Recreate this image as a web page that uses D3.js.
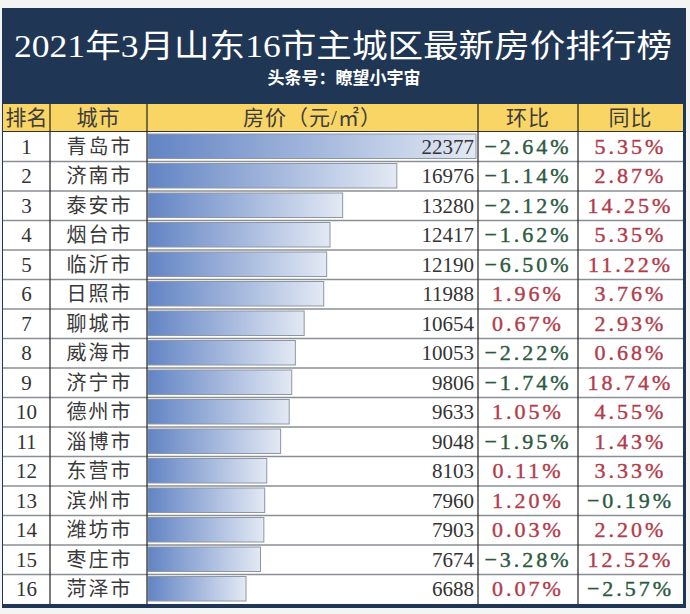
<!DOCTYPE html>
<html><head><meta charset="utf-8">
<script src="https://cdn.jsdelivr.net/npm/d3@7/dist/d3.min.js"></script>
<style>
html,body{margin:0;padding:0;background:#f4f4f4;}
svg{display:block;}
</style></head>
<body>
<svg id="chart" width="690" height="614"></svg>
<script>
const title = "2021年3月山东16市主城区最新房价排行榜";
const subtitle = "头条号：瞭望小宇宙";
const headers = ["排名", "城市", "房价（元/㎡）", "环比", "同比"];
const cities = ["青岛市","济南市","泰安市","烟台市","临沂市","日照市","聊城市","威海市","济宁市","德州市","淄博市","东营市","滨州市","潍坊市","枣庄市","菏泽市"];
const prices = [22377,16976,13280,12417,12190,11988,10654,10053,9806,9633,9048,8103,7960,7903,7674,6688];
const mom = [-2.64,-1.14,-2.12,-1.62,-6.50,1.96,0.67,-2.22,-1.74,1.05,-1.95,0.11,1.20,0.03,-3.28,0.07];
const yoy = [5.35,2.87,14.25,5.35,11.22,3.76,2.93,0.68,18.74,4.55,1.43,3.33,-0.19,2.20,12.52,-2.57];

const svg = d3.select("#chart");
const serif = "'Liberation Serif','DejaVu Serif','Noto Sans CJK SC',serif";
const cols = [3, 50, 147, 478, 578, 683];
const tableTop = 104, headerBottom = 131, tableBottom = 604;

svg.append("rect").attr("x",0).attr("y",0).attr("width",690).attr("height",614).attr("fill","#f4f4f4");
svg.append("rect").attr("x",2).attr("y",8).attr("width",684).attr("height",600).attr("fill","#1f3654");

svg.append("text").attr("x",343).attr("y",57).attr("text-anchor","middle")
  .attr("font-family",serif).attr("font-size",32).attr("fill","#ffffff")
  .attr("textLength",658).attr("lengthAdjust","spacingAndGlyphs").text(title);
svg.append("text").attr("x",344).attr("y",84).attr("text-anchor","middle")
  .attr("font-family","'Noto Sans CJK SC',sans-serif").attr("font-weight","bold")
  .attr("font-size",17).attr("fill","#ffffff").text(subtitle);

svg.append("rect").attr("x",cols[0]).attr("y",tableTop).attr("width",cols[5]-cols[0]).attr("height",tableBottom-tableTop).attr("fill","#ffffff");
svg.append("rect").attr("x",cols[0]).attr("y",tableTop).attr("width",cols[5]-cols[0]).attr("height",headerBottom-tableTop).attr("fill","#f8d565");

const y = d3.scaleBand().domain(cities).range([headerBottom+1, tableBottom]);
const x = d3.scaleLinear().domain([0, d3.max(prices)]).range([148, 476]);

const defs = svg.append("defs");
const g = defs.append("linearGradient").attr("id","barGrad").attr("x1","0").attr("x2","1").attr("y1","0").attr("y2","0");
g.append("stop").attr("offset","0%").attr("stop-color","#6284c4");
g.append("stop").attr("offset","100%").attr("stop-color","#e3e9f4");

svg.selectAll("line.row").data(cities.slice(1)).join("line")
  .attr("x1",cols[0]).attr("x2",cols[5])
  .attr("y1",d=>y(d)).attr("y2",d=>y(d))
  .attr("stroke","#8a8f96").attr("stroke-width",1.5);
svg.append("line").attr("x1",cols[0]).attr("x2",cols[5]).attr("y1",headerBottom+0.5).attr("y2",headerBottom+0.5).attr("stroke","#333").attr("stroke-width",1);

svg.selectAll("rect.bar").data(prices).join("rect").attr("class","bar")
  .attr("x",x(0)).attr("y",(d,i)=>y(cities[i])+2)
  .attr("width",d=>x(d)-x(0)).attr("height",y.bandwidth()-5)
  .attr("fill","url(#barGrad)").attr("stroke","#8d96a6").attr("stroke-width",1);

svg.selectAll("line.col").data(cols.slice(1,5)).join("line")
  .attr("x1",d=>d).attr("x2",d=>d).attr("y1",tableTop).attr("y2",tableBottom)
  .attr("stroke","#222").attr("stroke-width",1.2);

const hx = [(cols[0]+cols[1])/2, (cols[1]+cols[2])/2, (cols[2]+cols[3])/2, (cols[3]+cols[4])/2, (cols[4]+cols[5])/2];
svg.selectAll("text.hdr").data(headers).join("text")
  .attr("x",(d,i)=>hx[i]).attr("y",125).attr("text-anchor","middle")
  .attr("font-family",serif).attr("font-size",21).attr("fill","#3c3c3c")
  .attr("letter-spacing",(d,i)=>i===0?0:1).text(d=>d);

const rowY = d=>y(d)+y.bandwidth()/2+7;
svg.selectAll("text.rank").data(cities).join("text")
  .attr("x",hx[0]).attr("y",rowY).attr("text-anchor","middle")
  .attr("font-family",serif).attr("font-size",21).attr("fill","#333").text((d,i)=>i+1);
svg.selectAll("text.city").data(cities).join("text")
  .attr("x",hx[1]+1).attr("y",rowY).attr("text-anchor","middle")
  .attr("font-family",serif).attr("font-size",20).attr("letter-spacing",2).attr("fill","#3a3a3a").text(d=>d);
svg.selectAll("text.price").data(prices).join("text")
  .attr("x",474).attr("y",(d,i)=>rowY(cities[i])).attr("text-anchor","end")
  .attr("font-family",serif).attr("font-size",21).attr("fill","#333").text(d=>d);

const fmt = v => (v<0?"\u2212":"") + d3.format(".2f")(Math.abs(v)) + "%";
const col = v => v<0 ? "#2c5a3f" : "#b23c4b";
[[mom,3],[yoy,4]].forEach(([arr,ci]) => {
  svg.selectAll("text.pct"+ci).data(arr).join("text")
    .attr("x",hx[ci]).attr("y",(d,i)=>rowY(cities[i])).attr("text-anchor","middle")
    .attr("font-family",serif).attr("font-size",22).attr("letter-spacing",3)
    .attr("stroke",col).attr("stroke-width",0.4)
    .attr("fill",col).text(fmt);
});
</script>
</body></html>
